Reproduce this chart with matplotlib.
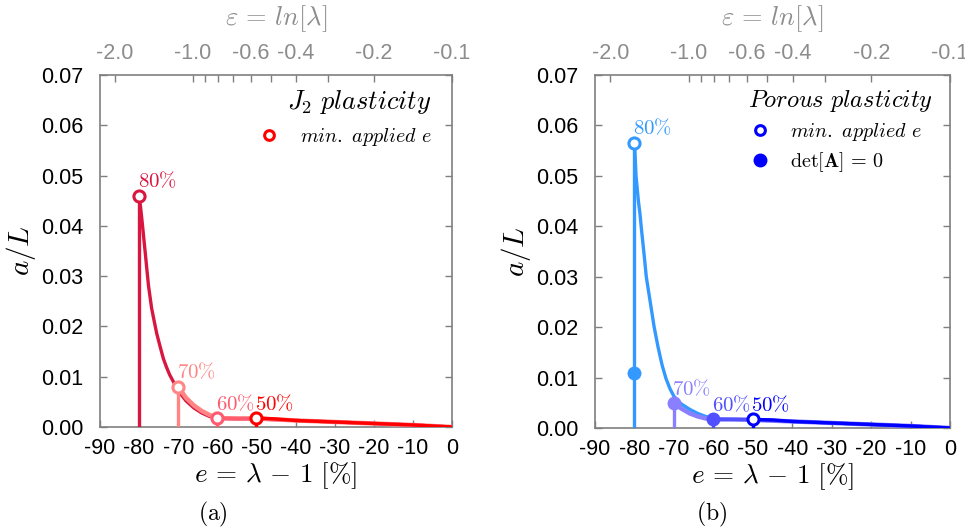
import numpy as np
import matplotlib
matplotlib.use("Agg")
import matplotlib.pyplot as plt
from matplotlib.ticker import FixedLocator, NullFormatter
from matplotlib.lines import Line2D

plt.rcParams['mathtext.fontset'] = 'cm'
plt.rcParams['axes.unicode_minus'] = False
plt.rcParams['font.family'] = ['Liberation Sans', 'DejaVu Sans']

# ---------------- data ----------------
pct_labels = ["80%", "70%", "60%", "50%"]
e_min = [-80, -70, -60, -50]

# J2 plasticity (panel a)
e_a80 = [-80, -79.6, -79.2, -78.8, -78.4, -78, -77.6, -76.8, -76, -75.5, -74.6, -73.8, -73, -72.2, -71.3, -70.5, -70, -69, -68, -66, -64, -62, -60, -55, -50, -40, -30, -20, -10, 0]
a_a80 = [0.046, 0.0435, 0.0406, 0.0375, 0.0344, 0.0312, 0.0281, 0.0236, 0.0205, 0.0186, 0.0159, 0.0136, 0.0119, 0.0104, 0.0091, 0.0080, 0.0074, 0.0062, 0.0052, 0.0038, 0.0028, 0.0021, 0.0017, 0.0016, 0.0016, 0.0013, 0.0010, 0.0007, 0.0004, 0.0]
e_a70 = [-70, -68, -66, -64, -62, -60, -55, -50, -40, -30, -20, -10, 0]
a_a70 = [0.008, 0.0058, 0.0043, 0.0032, 0.0024, 0.0018, 0.0017, 0.0017, 0.0013, 0.0010, 0.0007, 0.0004, 0.0]
e_a60 = [-60, -55, -50, -40, -30, -20, -10, 0]
a_a60 = [0.0017, 0.0017, 0.0017, 0.0013, 0.0010, 0.0007, 0.0004, 0.0]
e_a50 = [-50, -45, -40, -30, -20, -10, 0]
a_a50 = [0.0018, 0.0016, 0.0013, 0.0010, 0.0007, 0.0004, 0.0]
peak_a = [0.046, 0.008, 0.0017, 0.0018]

# Porous plasticity (panel b)
e_b80 = [-80, -79.8, -79.6, -79.3, -79, -78.6, -78.3, -77.9, -77.5, -77, -76.5, -76, -75.5, -75, -74, -73, -72, -71, -70, -69, -68, -66, -64, -62, -60, -55, -50, -40, -30, -20, -10, 0]
a_b80 = [0.0566, 0.0535, 0.050, 0.0475, 0.045, 0.0425, 0.040, 0.037, 0.034, 0.030, 0.0275, 0.025, 0.0225, 0.020, 0.016, 0.0125, 0.0098, 0.0078, 0.0063, 0.0054, 0.0047, 0.0037, 0.0029, 0.0023, 0.0019, 0.0017, 0.0016, 0.0013, 0.0010, 0.0007, 0.0004, 0.0]
e_b70 = [-70, -68, -66, -64, -62, -60, -55, -50, -40, -30, -20, -10, 0]
a_b70 = [0.0049, 0.0038, 0.0029, 0.0023, 0.0019, 0.0017, 0.0017, 0.0016, 0.0013, 0.0010, 0.0007, 0.0004, 0.0]
e_b60 = [-60, -55, -50, -40, -30, -20, -10, 0]
a_b60 = [0.0017, 0.0017, 0.0017, 0.0013, 0.0010, 0.0007, 0.0004, 0.0]
e_b50 = [-50, -45, -40, -30, -20, -10, 0]
a_b50 = [0.0017, 0.0016, 0.0013, 0.0010, 0.0007, 0.0004, 0.0]
peak_b = [0.0566, 0.0049, 0.0017, 0.0017]
det_e = [-80, -70, -60]
det_a = [0.011, 0.0049, 0.0017]

x_ticks = [-90, -80, -70, -60, -50, -40, -30, -20, -10, 0]
y_ticks = [0.00, 0.01, 0.02, 0.03, 0.04, 0.05, 0.06, 0.07]
top_major = [-2.0, -1.0, -0.6, -0.4, -0.2, -0.1]
top_minor = [-0.9, -0.8, -0.7, -0.5, -0.3]

colors_a = ["#d8163f", "#ff8585", "#ff5a70", "#ff0000"]
colors_b = ["#3399ff", "#8a80ff", "#5050ff", "#0000ff"]


def top_pos(v):
    # log-scaled strain axis mapped onto e axis
    return -66.2 * (1.0 + np.log10(-np.asarray(v, dtype=float)))


fig = plt.figure(figsize=(9.65, 5.29), dpi=100)
ax_a = fig.add_axes([100 / 965, 1 - 427 / 529, 352 / 965, 352 / 529])
ax_b = fig.add_axes([595 / 965, 1 - 428 / 529, 355 / 965, 353 / 529])

spine_c = "#7f7f7f"
tick_fs = 15.5


def style(ax, ylab_x):
    ax.set_xlim(-90, 0)
    ax.set_ylim(0, 0.07)
    ax.set_xticks(x_ticks)
    ax.set_xticklabels([str(t) for t in x_ticks])
    ax.set_yticks(y_ticks)
    ax.set_yticklabels([f"{t:.2f}" for t in y_ticks])
    for s in ax.spines.values():
        s.set_color(spine_c)
        s.set_linewidth(1.2)
    ax.tick_params(direction='in', length=5, width=1, color=spine_c,
                   labelsize=tick_fs, right=True, top=False)
    ax.tick_params(axis='y', pad=12)
    ax.tick_params(axis='x', pad=8)
    ax.set_xlabel(r'$e\,=\,\lambda\,-\,1\ [\%]$', fontsize=19.5, labelpad=1)
    ax.set_ylabel(r'$a/L$', fontsize=21)
    ax.yaxis.set_label_coords(ylab_x, 0.5)
    top = ax.twiny()
    top.set_xlim(-90, 0)
    top.xaxis.set_major_locator(FixedLocator(top_pos(top_major)))
    top.set_xticklabels([f"{v:.1f}" for v in top_major])
    top.xaxis.set_minor_locator(FixedLocator(top_pos(top_minor)))
    top.xaxis.set_minor_formatter(NullFormatter())
    top.tick_params(which='both', direction='in', length=5, width=1, color=spine_c,
                    labelsize=tick_fs, labelcolor="#8c8c8c", pad=8)
    for s in top.spines.values():
        s.set_visible(False)
    top.set_xlabel(r'$\varepsilon\,=\,ln[\lambda]$', fontsize=19, color="#8c8c8c", labelpad=13)
    return top


style(ax_a, -62 / 352)
style(ax_b, -62 / 355)

lw = 2.4
ms = 8

# panel a
curves_a = [(e_a80, a_a80), (e_a70, a_a70), (e_a60, a_a60), (e_a50, a_a50)]
for i, (ee, aa) in enumerate(curves_a):
    c = colors_a[i]
    ax_a.plot(ee, aa, color=c, lw=lw if i != 1 else 3.2, solid_capstyle='round',
              solid_joinstyle='round', zorder=3 + i)
    ax_a.plot([e_min[i], e_min[i]], [0, peak_a[i]], color=c, lw=lw, zorder=3 + i)
for i in range(4):
    c = colors_a[i]
    ax_a.plot(e_min[i], peak_a[i], 'o', ms=ms, mfc='white', mec=c, mew=2.2, zorder=10)
    ax_a.annotate(r'$%d\%%$' % int(pct_labels[i][:2]), (e_min[i], peak_a[i]),
                  xytext=(-1, 3), textcoords='offset points', ha='left', va='bottom',
                  fontsize=15, color=c, zorder=11)

# panel b
curves_b = [(e_b80, a_b80), (e_b70, a_b70), (e_b60, a_b60), (e_b50, a_b50)]
for i, (ee, aa) in enumerate(curves_b):
    c = colors_b[i]
    ax_b.plot(ee, aa, color=c, lw=lw if i != 1 else 3.2, solid_capstyle='round',
              solid_joinstyle='round', zorder=3 + i)
    ax_b.plot([e_min[i], e_min[i]], [0, peak_b[i]], color=c, lw=lw, zorder=3 + i)
ax_b.plot(e_min[0], peak_b[0], 'o', ms=ms, mfc='white', mec=colors_b[0], mew=2.2, zorder=10)
ax_b.plot(e_min[3], peak_b[3], 'o', ms=ms, mfc='white', mec=colors_b[3], mew=2.2, zorder=10)
for j in range(3):
    ax_b.plot(det_e[j], det_a[j], 'o', ms=ms + 1, color=colors_b[j], zorder=10)
for i in range(4):
    c = colors_b[i]
    ax_b.annotate(r'$%d\%%$' % int(pct_labels[i][:2]), (e_min[i], peak_b[i]),
                  xytext=(-1, 3), textcoords='offset points', ha='left', va='bottom',
                  fontsize=15, color=c, zorder=11)

# legends
h_a = [Line2D([], [], ls='none', marker='o', ms=ms - 1, mfc='white', mec='#ff0000', mew=2.2)]
leg_a = ax_a.legend(h_a, [r'$min.\ applied\ e$'], title=r'$J_2\ plasticity$',
                    loc='upper right', bbox_to_anchor=(0.965, 0.985), frameon=False,
                    fontsize=14.5, title_fontsize=19, handletextpad=0.9, borderaxespad=0.0,
                    handlelength=1.2)
leg_a._legend_box.align = "right"

h_b = [Line2D([], [], ls='none', marker='o', ms=ms - 1, mfc='white', mec='#0000ff', mew=2.2),
       Line2D([], [], ls='none', marker='o', ms=ms + 1, color='#0000ff')]
leg_b = ax_b.legend(h_b, [r'$min.\ applied\ e$', r'$\mathrm{det}[\mathbf{A}]\,=\,\boldsymbol{0}$'],
                    title=r'$Porous\ plasticity$', loc='upper right',
                    bbox_to_anchor=(0.975, 0.985), frameon=False,
                    fontsize=14.5, title_fontsize=17.5, handletextpad=0.9, borderaxespad=0.0,
                    labelspacing=0.35, handlelength=1.2)
leg_b._legend_box.align = "left"

fig.text(213 / 965, 1 - 514 / 529, r'$(\mathrm{a})$', fontsize=17, ha='center', va='center')
fig.text(712 / 965, 1 - 514 / 529, r'$(\mathrm{b})$', fontsize=17, ha='center', va='center')

fig.savefig("out.png", dpi=100)
